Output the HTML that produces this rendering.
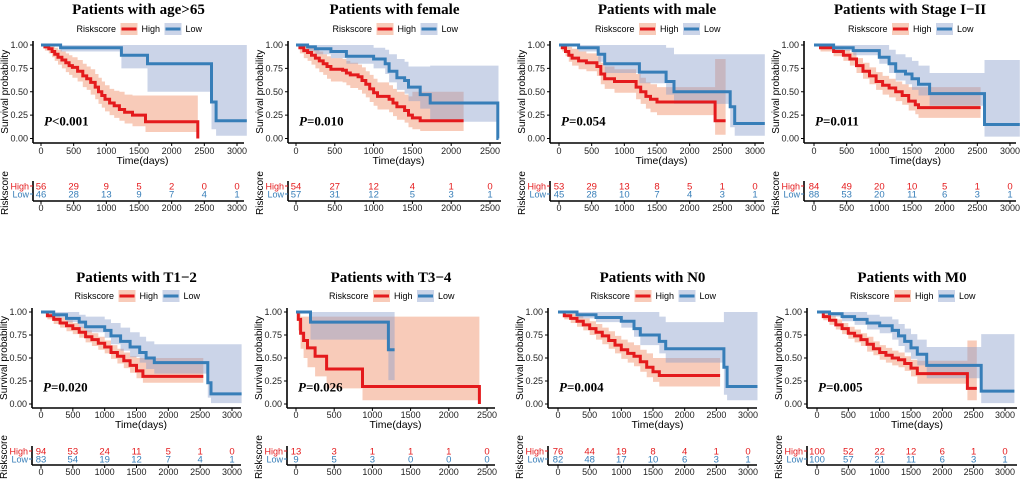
<!DOCTYPE html>
<html><head><meta charset="utf-8">
<style>
html,body{margin:0;padding:0;background:#fff;}
svg{display:block;font-family:"Liberation Sans",sans-serif;}
</style></head>
<body>
<svg id="fig" width="1020" height="488" viewBox="0 0 1020 488" xmlns="http://www.w3.org/2000/svg"></svg>
<script>
// ---- data arrays ----
const titles = ["Patients with age>65","Patients with female","Patients with male","Patients with Stage I\u2212II","Patients with T1\u22122","Patients with T3\u22124","Patients with N0","Patients with M0"];
const pvalues = ["<0.001","=0.010","=0.054","=0.011","=0.020","=0.026","=0.004","=0.005"];
const tickSets = [[0,500,1000,1500,2000,2500,3000],[0,500,1000,1500,2000,2500],[0,500,1000,1500,2000,2500,3000],[0,500,1000,1500,2000,2500,3000],[0,500,1000,1500,2000,2500,3000],[0,500,1000,1500,2000,2500],[0,500,1000,1500,2000,2500,3000],[0,500,1000,1500,2000,2500,3000]];
const riskHigh = [[56,29,9,5,2,0,0],[54,27,12,4,1,0],[53,29,13,8,5,1,0],[84,49,20,10,5,1,0],[94,53,24,11,5,1,0],[13,3,1,1,1,0],[76,44,19,8,4,1,0],[100,52,22,12,6,1,0]];
const riskLow = [[46,28,13,9,7,4,1],[57,31,12,5,3,1],[45,28,10,7,4,3,1],[88,53,20,11,6,3,1],[83,54,19,12,7,4,1],[9,5,3,0,0,0],[82,48,17,10,6,3,1],[100,57,21,11,6,3,1]];
const yTicks = [0,0.25,0.5,0.75,1];
const yTickLabels = ["0.00","0.25","0.50","0.75","1.00"];

// High-risk curves: times, survival, CI upper, CI lower, end time
const highT = [
 [0,60,120,170,210,260,320,380,430,480,560,640,700,760,830,880,930,980,1050,1120,1200,1280,1400,1600,2400],
 [0,50,100,150,200,250,300,350,400,450,600,650,700,800,850,900,950,1000,1050,1200,1250,1300,1400,1450,1500,1600,2160],
 [0,50,100,150,200,300,420,580,640,700,850,1180,1250,1330,1400,1500,2390],
 [0,100,300,450,550,650,750,850,950,1050,1150,1250,1350,1450,1550,1600,1780],
 [0,100,200,300,400,500,600,700,800,900,1000,1100,1200,1300,1400,1500,1600],
 [0,30,60,100,150,250,400,870,2400],
 [0,100,200,300,400,500,600,700,800,900,1000,1100,1200,1300,1400,1500,1600],
 [0,100,200,300,400,500,600,700,800,900,1000,1100,1200,1300,1400,1500,1600,2400]];
const highS = [
 [1,.98,.96,.93,.90,.87,.84,.81,.78,.76,.72,.67,.64,.60,.55,.50,.46,.42,.38,.35,.31,.28,.25,.18,0],
 [1,.97,.94,.92,.89,.86,.83,.80,.77,.74,.73,.70,.68,.66,.62,.58,.53,.49,.45,.42,.38,.34,.30,.25,.22,.19,.19],
 [1,.97,.93,.89,.86,.83,.81,.77,.69,.64,.61,.55,.50,.45,.42,.39,.19],
 [1,.97,.93,.89,.85,.78,.72,.67,.61,.57,.54,.50,.46,.40,.36,.33,.33],
 [1,.96,.92,.88,.85,.82,.78,.73,.70,.66,.62,.56,.52,.47,.42,.36,.30],
 [1,.92,.77,.69,.61,.52,.38,.19,0],
 [1,.96,.93,.90,.86,.82,.78,.74,.69,.64,.59,.55,.52,.46,.40,.35,.31],
 [1,.95,.91,.86,.82,.77,.74,.70,.65,.60,.56,.53,.50,.48,.44,.39,.33,.17]];
const highHi = [
 [1,1,1,.99,.97,.95,.93,.91,.89,.87,.84,.80,.77,.74,.69,.65,.61,.57,.53,.51,.50,.47,.46,.46,0],
 [1,1,1,.99,.97,.95,.93,.90,.88,.86,.85,.83,.81,.79,.76,.72,.68,.64,.60,.57,.53,.50,.47,.45,.50,.50,.50],
 [1,1,1,.98,.96,.93,.91,.88,.81,.77,.74,.69,.65,.60,.58,.55,.85],
 [1,1,.98,.95,.92,.86,.81,.76,.71,.67,.64,.61,.58,.55,.55,.55,.55],
 [1,1,.97,.94,.91,.88,.84,.80,.77,.73,.69,.64,.60,.56,.52,.50,.50],
 [1,1,.95,.95,.95,.95,.95,.95,.95],
 [1,1,.98,.96,.93,.90,.87,.83,.79,.74,.70,.67,.64,.59,.55,.50,.50],
 [1,1,.96,.92,.88,.84,.81,.77,.73,.68,.64,.61,.58,.56,.52,.48,.47,.69]];
const highLo = [
 [1,.94,.91,.87,.83,.79,.75,.71,.68,.65,.61,.55,.52,.47,.42,.37,.33,.29,.25,.22,.19,.16,.13,.07,0],
 [1,.91,.86,.83,.79,.75,.71,.68,.64,.61,.60,.57,.54,.52,.48,.44,.39,.35,.31,.28,.24,.20,.17,.12,.10,.08,.08],
 [1,.93,.88,.82,.78,.74,.72,.67,.58,.53,.49,.42,.37,.32,.28,.25,.04],
 [1,.93,.88,.83,.78,.70,.64,.58,.52,.47,.44,.40,.36,.30,.26,.22,.22],
 [1,.92,.87,.83,.79,.76,.72,.67,.63,.59,.55,.49,.44,.39,.34,.28,.23],
 [1,.80,.60,.50,.40,.30,.17,.04,0],
 [1,.92,.88,.84,.80,.75,.70,.65,.60,.55,.49,.45,.41,.35,.29,.24,.19],
 [1,.91,.86,.81,.76,.71,.67,.63,.57,.53,.48,.45,.42,.40,.36,.30,.22,.04]];
const highEnd = [2400,2160,2550,2550,2550,2400,2560,2550];

const lowT = [
 [0,300,1230,1630,2610,2680],
 [0,150,250,450,650,1000,1150,1200,1300,1400,1450,1600,1730,2600],
 [0,300,600,700,1230,1640,1760,2620,2690],
 [0,300,600,1000,1150,1250,1400,1500,1600,1770,2610],
 [0,200,400,600,700,1000,1100,1250,1400,1550,1650,1780,2620,2670],
 [0,190,1210],
 [0,300,600,1000,1200,1300,1600,1700,2620,2670],
 [0,200,400,600,800,1000,1200,1300,1400,1500,1600,1750,2620]];
const lowS = [
 [1,.97,.89,.80,.39,.19],
 [1,.98,.96,.93,.88,.85,.80,.72,.65,.62,.55,.47,.38,0],
 [1,.97,.90,.80,.71,.61,.50,.34,.16],
 [1,.97,.94,.87,.80,.72,.69,.64,.58,.48,.15],
 [1,.97,.93,.89,.84,.80,.74,.68,.62,.56,.50,.45,.23,.11],
 [1,.89,.59],
 [1,.97,.94,.90,.82,.75,.68,.60,.40,.19],
 [1,.98,.95,.92,.88,.85,.80,.74,.68,.61,.54,.42,.14]];
const lowHi = [
 [1,1,1,1,1,1],
 [1,1,1,1,1,.97,.95,.90,.85,.82,.77,.77,.78,.78],
 [1,1,1,1,1,.97,.90,.90,.90],
 [1,1,1,1,.95,.90,.87,.83,.78,.70,.84],
 [1,1,1,.97,.95,.92,.88,.83,.78,.73,.68,.65,.65,.65],
 [1,1,1],
 [1,1,1,1,1,1,.95,.89,1,1],
 [1,1,1,1,.97,.95,.92,.87,.82,.76,.70,.62,.76]];
const lowLo = [
 [1,.93,.75,.50,.10,.03],
 [1,.93,.90,.86,.80,.75,.69,.60,.52,.48,.40,.32,.18,0],
 [1,.93,.82,.70,.59,.47,.37,.12,.03],
 [1,.94,.89,.80,.70,.62,.58,.52,.46,.35,.02],
 [1,.94,.89,.83,.78,.72,.65,.58,.51,.45,.38,.33,.07,.01],
 [1,.70,.26],
 [1,.93,.89,.83,.73,.64,.55,.45,.10,.04],
 [1,.95,.90,.86,.81,.77,.70,.63,.56,.49,.42,.28,.01]];
const lowEnd = [3150,2610,3150,3150,3150,1290,3150,3150];

// ---- layout (pixel geometry, not data) ----
const panelGeo = [
 {axis:33,x0:41,xr:237,rv:3000,right:244},{axis:288,x0:296,xr:490,rv:2500,right:501},
 {axis:550,x0:559,xr:755,rv:3000,right:764},{axis:804,x0:814,xr:1010,rv:3000,right:1016},
 {axis:32,x0:41,xr:232,rv:3000,right:241},{axis:287,x0:296,xr:487,rv:2500,right:495},
 {axis:548,x0:558,xr:748,rv:3000,right:757},{axis:807,x0:817,xr:1005,rv:3000,right:1017}];
const rowGeo = [
 {title:14,legend:29,y1:45,y0:138.5,xline:143,tick:154,xlab:164,high:186,low:194,raxis:201,rtick:211,rlab:220},
 {title:282,legend:296,y1:312,y0:404,xline:408,tick:418,xlab:428,high:451,low:459,raxis:465,rtick:475,rlab:484}];
const RED="#E41A1C", BLUE="#377EB8", REDF="rgba(240,140,100,0.45)", BLUEF="rgba(140,160,205,0.45)";
const NS="http://www.w3.org/2000/svg";
const svg=document.getElementById('fig');
function mk(tag,attrs,parent,text){const e=document.createElementNS(NS,tag);for(const k in attrs)e.setAttribute(k,attrs[k]);if(text!==undefined)e.textContent=text;(parent||svg).appendChild(e);return e;}

function stepPts(t,v,end,xs,ys){
  let pts=[];
  for(let i=0;i<t.length;i++){
    if(i>0)pts.push([xs(t[i]),ys(v[i-1])]);
    pts.push([xs(t[i]),ys(v[i])]);
  }
  pts.push([xs(end),ys(v[v.length-1])]);
  return pts;
}
function bandPath(t,hi,lo,end,xs,ys){
  const up=stepPts(t,hi,end,xs,ys), dn=stepPts(t,lo,end,xs,ys).reverse();
  return "M"+up.concat(dn).map(p=>p[0].toFixed(1)+","+p[1].toFixed(1)).join("L")+"Z";
}
function linePath(pts){return "M"+pts.map(p=>p[0].toFixed(1)+","+p[1].toFixed(1)).join("L");}

for(let p=0;p<8;p++){
  const g0=panelGeo[p], r=rowGeo[p<4?0:1];
  const g=mk('g',{});
  
  
  const xs=v=>g0.x0+(g0.xr-g0.x0)*v/g0.rv;
  const ys=v=>r.y0-(r.y0-r.y1)*v;
  const cx=(g0.axis+g0.right)/2;
  const tt=mk('text',{x:cx,y:r.title,'text-anchor':'middle','font-family':'Liberation Serif,serif','font-weight':'bold','font-size':'15'},g,titles[p]);
  
  
  const lg=mk('g',{},g);
  
  
  const lx=cx-62;
  mk('text',{x:lx,y:r.legend+3,'font-size':'9'},lg,"Riskscore");
  mk('rect',{x:lx+44,y:r.legend-6,width:17,height:12,fill:REDF},lg);
  mk('line',{x1:lx+45,x2:lx+60,y1:r.legend,y2:r.legend,stroke:RED,'stroke-width':3},lg);
  mk('text',{x:lx+65,y:r.legend+3,'font-size':'9'},lg,"High");
  mk('rect',{x:lx+88,y:r.legend-6,width:17,height:12,fill:BLUEF},lg);
  mk('line',{x1:lx+89,x2:lx+104,y1:r.legend,y2:r.legend,stroke:BLUE,'stroke-width':3},lg);
  mk('text',{x:lx+109,y:r.legend+3,'font-size':'9'},lg,"Low");
  const bh=mk('path',{d:bandPath(highT[p],highHi[p],highLo[p],highEnd[p],xs,ys),fill:REDF},g);
  
  
  const bl=mk('path',{d:bandPath(lowT[p],lowHi[p],lowLo[p],lowEnd[p],xs,ys),fill:BLUEF},g);
  
  
  const ch=mk('path',{d:linePath(stepPts(highT[p],highS[p],highEnd[p],xs,ys)),fill:'none',stroke:RED,'stroke-width':3},g);
  
  
  const cl=mk('path',{d:linePath(stepPts(lowT[p],lowS[p],lowEnd[p],xs,ys)),fill:'none',stroke:BLUE,'stroke-width':3},g);
  
  
  mk('line',{x1:g0.axis,x2:g0.axis,y1:r.y1-4,y2:r.xline,stroke:'#000','stroke-width':1.6},g);
  mk('line',{x1:g0.axis,x2:g0.right,y1:r.xline,y2:r.xline,stroke:'#000','stroke-width':1.6},g);
  yTicks.forEach((v,i)=>{
    mk('line',{x1:g0.axis-3,x2:g0.axis,y1:ys(v),y2:ys(v),stroke:'#000','stroke-width':1},g);
    const yl=mk('text',{x:g0.axis-5,y:ys(v)+3,'text-anchor':'end','font-size':'9',fill:'#222'},g,yTickLabels[i]);
    
    
  });
  const yt=mk('text',{transform:`translate(${g0.axis-25},${(r.y1+r.y0)/2}) rotate(-90)`,'text-anchor':'middle','font-size':'10'},g,"Survival probability");
  
  
  tickSets[p].forEach((v,i)=>{
    mk('line',{x1:xs(v),x2:xs(v),y1:r.xline,y2:r.xline+3,stroke:'#000','stroke-width':1},g);
    mk('text',{x:xs(v),y:r.tick,'text-anchor':'middle','font-size':'9',fill:'#222'},g,String(v));
    mk('text',{x:xs(v),y:r.high+3.5,'text-anchor':'middle','font-size':'9.5',fill:RED},g,String(riskHigh[p][i]));
    mk('text',{x:xs(v),y:r.low+3.5,'text-anchor':'middle','font-size':'9.5',fill:BLUE},g,String(riskLow[p][i]));
    mk('line',{x1:xs(v),x2:xs(v),y1:r.raxis,y2:r.raxis+3,stroke:'#000','stroke-width':1},g);
    mk('text',{x:xs(v),y:r.rtick,'text-anchor':'middle','font-size':'9',fill:'#222'},g,String(v));
  });
  const xt=mk('text',{x:(g0.x0+g0.right)/2,y:r.xlab,'text-anchor':'middle','font-size':'10.5'},g,"Time(days)");
  
  
  const pv=mk('text',{x:g0.axis+11,y:ys(0.19)+5,'font-family':'Liberation Serif,serif','font-weight':'bold','font-size':'13'},g);
  
  
  mk('tspan',{'font-style':'italic'},pv,"P");
  mk('tspan',{},pv,pvalues[p]);
  mk('line',{x1:g0.axis,x2:g0.axis,y1:r.high-5,y2:r.raxis,stroke:'#000','stroke-width':1.6},g);
  mk('line',{x1:g0.axis,x2:g0.right,y1:r.raxis,y2:r.raxis,stroke:'#000','stroke-width':1.6},g);
  mk('line',{x1:g0.axis-3,x2:g0.axis,y1:r.high,y2:r.high,stroke:RED,'stroke-width':1},g);
  mk('line',{x1:g0.axis-3,x2:g0.axis,y1:r.low,y2:r.low,stroke:BLUE,'stroke-width':1},g);
  mk('text',{x:g0.axis-4,y:r.high+3.5,'text-anchor':'end','font-size':'9',fill:RED},g,"High");
  mk('text',{x:g0.axis-4,y:r.low+3.5,'text-anchor':'end','font-size':'9',fill:BLUE},g,"Low");
  const rl=mk('text',{transform:`translate(${g0.axis-25},${r.raxis-8}) rotate(-90)`,'text-anchor':'middle','font-size':'10'},g,"Riskscore");
  
  
}
</script>
</body></html>
